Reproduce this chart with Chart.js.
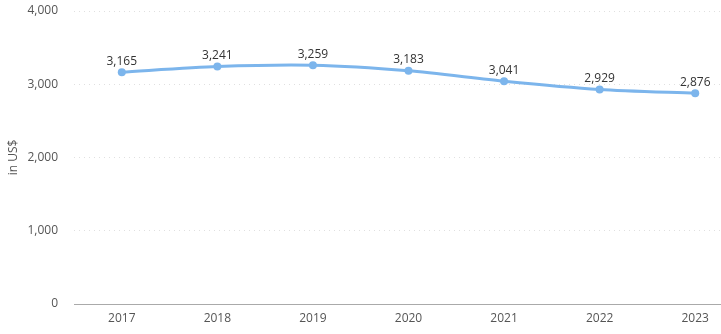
<!DOCTYPE html>
<html>
<head>
<meta charset="utf-8">
<script src="https://cdn.jsdelivr.net/npm/chart.js@4/dist/chart.umd.min.js"></script>
<style>
    html, body { margin: 0; padding: 0; background: #fff; overflow: hidden; }
    #wrap { width: 721px; height: 334px; overflow: hidden; }
</style>
</head>
<body>
<div id="wrap"><canvas id="myChart" width="747" height="334"></canvas></div>
<script>
const years = ['2017', '2018', '2019', '2020', '2021', '2022', '2023'];
const spending = [3165, 3241, 3259, 3183, 3041, 2929, 2876];
const yTicks = [0, 1000, 2000, 3000, 4000];

const fontFamily = '"Open Sans", "DejaVu Sans", sans-serif';

// writes the value above every point
const valueLabels = {
    id: 'valueLabels',
    afterDatasetsDraw(chart) {
        const ctx = chart.ctx;
        const meta = chart.getDatasetMeta(0);
        ctx.save();
        ctx.font = '12px ' + fontFamily;
        ctx.fillStyle = '#333333';
        ctx.textAlign = 'center';
        ctx.textBaseline = 'bottom';
        meta.data.forEach((pt, i) => {
            ctx.fillText(spending[i].toLocaleString('en-US'), pt.x, pt.y - 5);
        });
        ctx.restore();
    }
};

let ctx = document.getElementById('myChart');
let myChart = new Chart(ctx, {
    type: 'line',
    data: {
        labels: years,
        datasets: [{
            data: spending,
            borderColor: '#7cb5ec',
            backgroundColor: '#7cb5ec',
            borderWidth: 3,
            pointRadius: 4,
            pointBorderWidth: 0,
            pointHoverRadius: 4,
            tension: 0.25,
            fill: false
        }]
    },
    options: {
        responsive: false,
        animation: false,
        layout: { padding: { top: 11, left: 6, right: 0, bottom: 0 } },
        plugins: {
            legend: { display: false },
            tooltip: { enabled: false }
        },
        scales: {
            x: {
                offset: true,
                grid: { display: false, drawTicks: false },
                border: { display: true, color: '#aaaaaa', width: 1 },
                ticks: {
                    color: '#555555',
                    font: { family: fontFamily, size: 12 },
                    padding: 7,
                    maxRotation: 0
                },
                afterFit(scale) { scale.height = 30; }
            },
            y: {
                min: 0,
                max: 4000,
                afterBuildTicks(scale) {
                    scale.ticks = yTicks.map(v => ({ value: v }));
                },
                grid: {
                    color: '#e0e0e0',
                    drawTicks: false
                },
                border: { display: false, dash: [1, 4] },
                ticks: {
                    color: '#555555',
                    font: { family: fontFamily, size: 12 },
                    padding: 16,
                    callback: v => v.toLocaleString('en-US')
                },
                title: {
                    display: true,
                    text: 'in US$',
                    color: '#555555',
                    font: { family: fontFamily, size: 12 },
                    padding: { top: 0, bottom: 8 }
                },
                afterFit(scale) {
                    scale.width = 68;
                    scale.paddingTop = 0;
                    scale.paddingBottom = 0;
                }
            }
        }
    },
    plugins: [valueLabels]
});
</script>
</body>
</html>
